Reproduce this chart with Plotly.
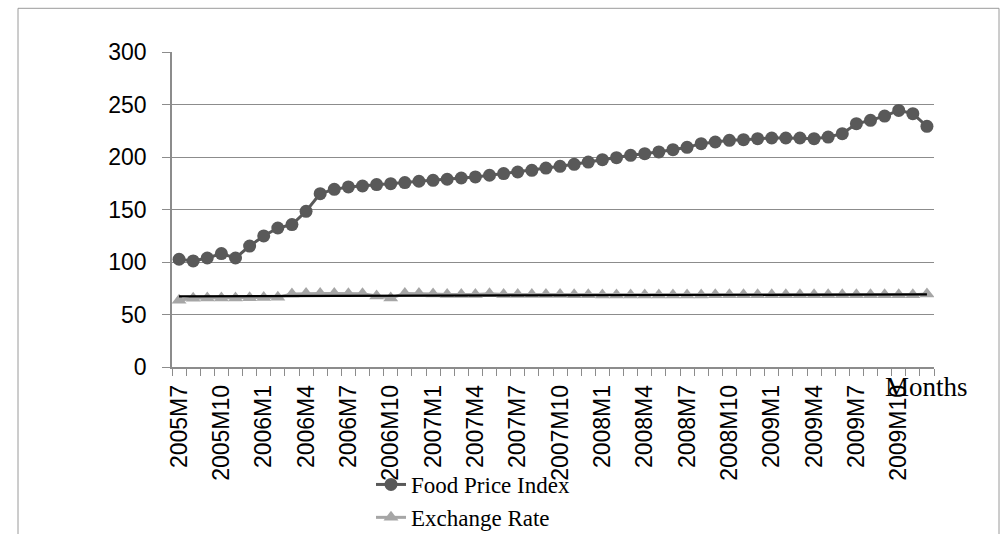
import plotly.graph_objects as go

# Monthly series, 2005M7 .. 2009M12
months = [f"{y}M{m}" for y in range(2005, 2010) for m in range(1, 13)][6:]

food_price_index = [
    102.6, 101.0, 103.8, 108.0, 103.8, 115.2, 124.8, 132.4, 135.6, 148.3,
    165.1, 169.2, 171.5, 172.4, 173.7, 174.6, 175.6, 176.9, 177.8, 178.8,
    180.0, 181.0, 182.6, 184.2, 185.7, 187.3, 189.5, 191.1, 193.0, 195.2,
    197.5, 199.4, 201.6, 203.2, 204.8, 207.0, 209.2, 212.7, 214.3, 215.9,
    216.5, 217.5, 218.1, 218.1, 218.1, 217.5, 219.0, 222.2, 231.7, 234.9,
    239.0, 244.4, 241.3, 229.2,
]

exchange_rate = [
    63.5, 65.5, 65.7, 65.7, 65.8, 66.0, 66.2, 66.4, 69.5, 69.9,
    69.9, 69.9, 69.8, 69.8, 67.6, 65.7, 69.9, 69.9, 69.5, 69.0,
    69.0, 69.0, 69.8, 69.0, 69.0, 69.0, 69.0, 69.0, 68.8, 68.8,
    68.6, 68.6, 68.6, 68.6, 68.6, 68.6, 68.6, 68.6, 68.8, 68.8,
    68.8, 68.8, 68.8, 68.8, 68.8, 68.8, 68.8, 68.8, 68.8, 68.8,
    68.8, 68.8, 68.8, 69.6,
]

# Straight trend line over the exchange rate (start / end values)
trend_ends = [67.3, 69.2]

y_ticks = [0, 50, 100, 150, 200, 250, 300]

n = len(months)
xs = list(range(n))
label_idx = xs[::3]

fig = go.Figure()

fig.add_trace(go.Scatter(
    x=xs, y=food_price_index, name="Food Price Index", mode="lines+markers",
    line=dict(color="#595959", width=3),
    marker=dict(symbol="circle", size=13, color="#595959"),
))
fig.add_trace(go.Scatter(
    x=xs, y=exchange_rate, name="Exchange Rate", mode="lines+markers",
    line=dict(color="#a6a6a6", width=3),
    marker=dict(symbol="triangle-up", size=13, color="#a6a6a6"),
))
fig.add_trace(go.Scatter(
    x=[xs[0], xs[-1]], y=trend_ends, mode="lines", showlegend=False,
    line=dict(color="#000000", width=2.2),
))

grid = "#8c8c8c"
fig.update_layout(
    width=1003, height=534,
    margin=dict(l=172, r=69, t=52, b=167, autoexpand=False),
    paper_bgcolor="white", plot_bgcolor="white",
    hovermode=False,
    font=dict(family="Liberation Sans", size=23, color="#000000"),
    legend=dict(
        x=(371 - 172) / 762, xanchor="left",
        y=(534 - 463) / 534, yref="container", yanchor="top",
        font=dict(family="Liberation Serif", size=23, color="#000000"),
        bgcolor="rgba(0,0,0,0)", tracegroupgap=0,
    ),
    xaxis=dict(
        range=[-0.5, n - 0.5], showgrid=False, zeroline=False,
        showline=True, linecolor=grid, linewidth=1.5,
        tickmode="array", tickvals=label_idx,
        ticktext=[months[i] for i in label_idx],
        tickangle=-90, ticks="", ticklabelstandoff=7,
        tickfont=dict(family="Liberation Sans", size=23),
        minor=dict(tickvals=[i - 0.5 for i in range(n + 1)], ticks="outside",
                   ticklen=7, tickwidth=1.3, tickcolor=grid, showgrid=False),
    ),
    yaxis=dict(
        range=[0, 300], tickmode="array", tickvals=y_ticks,
        showgrid=True, gridcolor=grid, gridwidth=1.3, zeroline=False,
        showline=True, linecolor=grid, linewidth=1.5,
        ticks="outside", ticklen=8, tickwidth=1.3, tickcolor=grid,
        ticklabelstandoff=11,
        tickfont=dict(family="Liberation Sans", size=23),
    ),
    annotations=[dict(
        text="Months", xref="paper", yref="paper",
        x=(926 - 172) / 762, y=-0.064,
        xanchor="center", yanchor="middle", showarrow=False,
        font=dict(family="Liberation Serif", size=27, color="#000000"),
    )],
    shapes=[dict(
        type="rect", xref="paper", yref="paper",
        x0=(18 - 172) / 762, x1=(999 - 172) / 762,
        y0=-1.0, y1=(366.7 - 8) / 315,
        line=dict(color="#9a9a9a", width=1), layer="below",
    )],
)

fig.write_html("out.html")
